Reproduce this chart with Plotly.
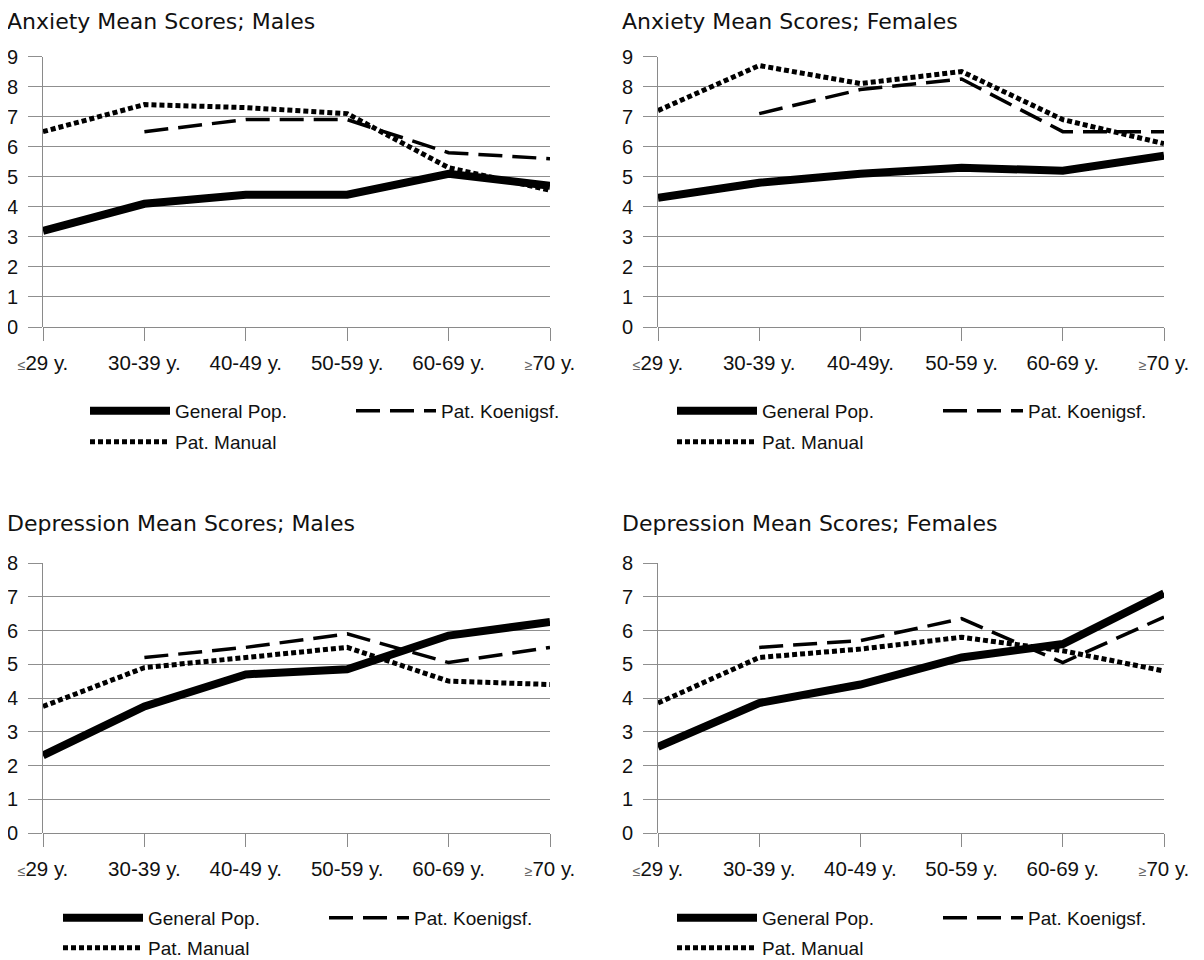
import plotly.graph_objects as go

# ---------------- data ----------------
categories = ["≤29 y.", "30-39 y.", "40-49 y.", "50-59 y.", "60-69 y.", "≥70 y."]
ticklabels_std = ["≤29 y.", "30-39 y.", "40-49 y.", "50-59 y.", "60-69 y.", "≥70 y."]
ticklabels_af = ["≤29 y.", "30-39 y.", "40-49y.", "50-59 y.", "60-69 y.", "≥70 y."]

series_names = ["General Pop.", "Pat. Koenigsf.", "Pat. Manual"]

anx_m_gen = [3.2, 4.1, 4.4, 4.4, 5.1, 4.7]
anx_m_koe = [None, 6.5, 6.9, 6.9, 5.8, 5.6]
anx_m_man = [6.5, 7.4, 7.3, 7.1, 5.3, 4.55]

anx_f_gen = [4.3, 4.8, 5.1, 5.3, 5.2, 5.7]
anx_f_koe = [None, 7.1, 7.9, 8.25, 6.5, 6.5]
anx_f_man = [7.2, 8.7, 8.1, 8.5, 6.9, 6.1]

dep_m_gen = [2.3, 3.75, 4.7, 4.85, 5.85, 6.25]
dep_m_koe = [None, 5.2, 5.5, 5.9, 5.05, 5.5]
dep_m_man = [3.75, 4.9, 5.2, 5.5, 4.5, 4.4]

dep_f_gen = [2.55, 3.85, 4.4, 5.2, 5.6, 7.1]
dep_f_koe = [None, 5.5, 5.7, 6.35, 5.05, 6.4]
dep_f_man = [3.85, 5.2, 5.45, 5.8, 5.4, 4.8]

panel_titles = ["Anxiety Mean Scores; Males", "Anxiety Mean Scores; Females",
                "Depression Mean Scores; Males", "Depression Mean Scores; Females"]
panel_data = [(anx_m_gen, anx_m_koe, anx_m_man), (anx_f_gen, anx_f_koe, anx_f_man),
              (dep_m_gen, dep_m_koe, dep_m_man), (dep_f_gen, dep_f_koe, dep_f_man)]
panel_ymax = [9, 9, 8, 8]
panel_ticklabels = [ticklabels_std, ticklabels_af, ticklabels_std, ticklabels_std]

# ---------------- layout geometry (pixels, in page coordinates) ----------------
PAGE_W, PAGE_H = 1204, 960
OFF = 8  # default body margin of the html page
W, H = PAGE_W - OFF, PAGE_H - OFF
FONT = "Arial, Liberation Sans, sans-serif"
TITLE_FONT = "DejaVu Sans, Arial, sans-serif"
px_x = lambda v: (v - OFF) / W
px_y = lambda v: 1 - (v - OFF) / H

panels = [
    dict(x0=43, x1=550, ytop=56.5, ybot=327, tx=6, ty=8, leg1=411, leg2=442, lx=85),
    dict(x0=658, x1=1164, ytop=56.5, ybot=327, tx=621, ty=8, leg1=411, leg2=442, lx=672),
    dict(x0=43, x1=550, ytop=563, ybot=833, tx=6, ty=510, leg1=918, leg2=948, lx=58),
    dict(x0=658, x1=1164, ytop=563, ybot=833, tx=621, ty=510, leg1=918, leg2=948, lx=672),
]

styles = [
    dict(color="#000000", width=8, dash="solid"),
    dict(color="#000000", width=3.5, dash="24px,10px"),
    dict(color="#000000", width=5, dash="5px,3px"),
]


def fmt_tick(t):
    if t.startswith("≤") or t.startswith("≥"):
        return "<span style='font-size:14px;color:#666'>" + t[0] + "</span>" + t[1:]
    return t


fig = go.Figure()
annotations = []
layout_axes = {}
legends = {}

for i, (p, data) in enumerate(zip(panels, panel_data)):
    n = i + 1
    xa = "x" if n == 1 else f"x{n}"
    ya = "y" if n == 1 else f"y{n}"
    leg_a = "legend" if n == 1 else f"legend{2 * n - 1}"
    leg_b = f"legend{2 * n}"
    for k, (name, vals) in enumerate(zip(series_names, data)):
        fig.add_trace(go.Scatter(
            x=categories, y=vals, name=name, mode="lines",
            line=dict(color=styles[k]["color"], width=styles[k]["width"], dash=styles[k]["dash"]),
            xaxis=xa, yaxis=ya, legend=(leg_b if k == 2 else leg_a),
            connectgaps=False, hoverinfo="x+y+name",
        ))
    xkey = "xaxis" if n == 1 else f"xaxis{n}"
    ykey = "yaxis" if n == 1 else f"yaxis{n}"
    layout_axes[xkey] = dict(
        domain=[px_x(p["x0"]), px_x(p["x1"])], anchor=ya, type="category",
        range=[0, 5], showgrid=False, zeroline=False, showline=False,
        ticks="outside", ticklen=13, tickwidth=1, tickcolor="#8a8a8a",
        tickvals=categories, ticktext=[fmt_tick(t) for t in panel_ticklabels[i]],
        tickfont=dict(family=FONT, size=20.5, color="#111111"), ticklabelstandoff=4,
        fixedrange=True, automargin=False,
    )
    layout_axes[ykey] = dict(
        domain=[px_y(p["ybot"]), px_y(p["ytop"])], anchor=xa,
        range=[0, panel_ymax[i]], dtick=1, tick0=0,
        showgrid=True, gridcolor="#8f8f8f", gridwidth=1,
        showline=True, linecolor="#8a8a8a", linewidth=1,
        zeroline=True, zerolinecolor="#8a8a8a", zerolinewidth=1,
        ticks="outside", ticklen=14, tickwidth=1, tickcolor="#8f8f8f",
        tickfont=dict(family=FONT, size=20, color="#111111"), ticklabelstandoff=6,
        fixedrange=True, automargin=False,
    )
    annotations.append(dict(
        text=panel_titles[i], xref="paper", yref="paper",
        x=px_x(p["tx"]), y=px_y(p["ty"]), xanchor="left", yanchor="top",
        borderpad=0, showarrow=False,
        font=dict(family=TITLE_FONT, size=22, color="#111111"),
    ))
    common = dict(orientation="h", xref="container", yref="container", xanchor="left", yanchor="middle",
                  bgcolor="rgba(0,0,0,0)", borderwidth=0, itemwidth=80,
                  font=dict(family=FONT, size=19, color="#111111"),
                  itemclick=False, itemdoubleclick=False,
                  entrywidth=171, entrywidthmode="pixels", tracegroupgap=0)
    legends[leg_a] = dict(common, x=px_x(p["lx"]), y=px_y(p["leg1"]))
    legends[leg_b] = dict(common, x=px_x(p["lx"]), y=px_y(p["leg2"]))

fig.update_layout(
    width=W, height=H,
    margin=dict(l=0, r=0, t=0, b=0, autoexpand=False),
    paper_bgcolor="white", plot_bgcolor="white",
    annotations=annotations,
    showlegend=True,
    **layout_axes,
    **legends,
)

fig.write_html("out.html")
